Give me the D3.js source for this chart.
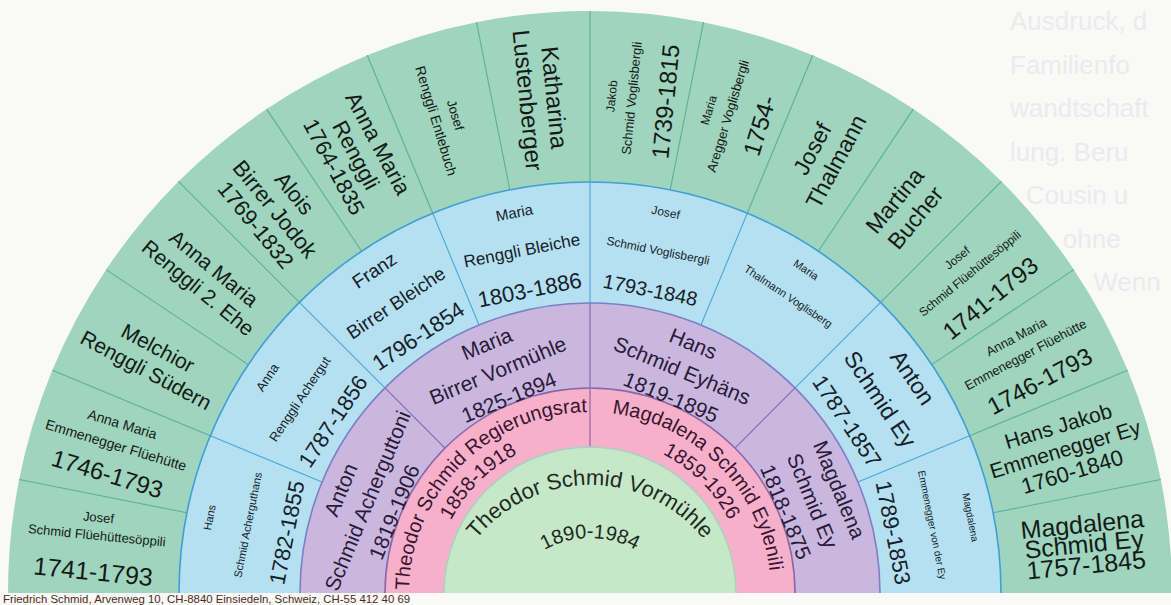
<!DOCTYPE html>
<html>
<head>
<meta charset="utf-8">
<script src="https://cdn.jsdelivr.net/npm/d3@7"></script>
<style>
  body { margin: 0; background: #f9f9f8; }
  svg { display: block; font-family: "Liberation Sans", Arial, sans-serif; }
</style>
</head>
<body>
<svg id="chart" width="1171" height="605"></svg>
<script>
// ancestors, one array per generation (left to right)
const proband = ["Theodor Schmid Vormühle", "1890-1984"];
const parents = [
  ["Theodor Schmid Regierungsrat", "1858-1918"],
  ["Magdalena Schmid Eylenili", "1859-1926"]
];
const grandparents = [
  ["Anton", "Schmid Acherguttoni", "1819-1906"],
  ["Maria", "Birrer Vormühle", "1825-1894"],
  ["Hans", "Schmid Eyhäns", "1819-1895"],
  ["Magdalena", "Schmid Ey", "1818-1875"]
];
const greatGrandparents = [
  ["Hans", "Schmid Acherguthans", "1782-1855"],
  ["Anna", "Renggli Achergut", "1787-1856"],
  ["Franz", "Birrer Bleiche", "1796-1854"],
  ["Maria", "Renggli Bleiche", "1803-1886"],
  ["Josef", "Schmid Voglisbergli", "1793-1848"],
  ["Maria", "Thalmann Voglisberg"],
  ["Anton", "Schmid Ey", "1787-1857"],
  ["Magdalena", "Emmenegger von der Ey", "1789-1853"]
];
const gen5 = [
  ["Josef", "Schmid Flüehüttesöppili", "1741-1793"],
  ["Anna Maria", "Emmenegger Flüehütte", "1746-1793"],
  ["Melchior", "Renggli Südern"],
  ["Anna Maria", "Renggli 2. Ehe"],
  ["Alois", "Birrer Jodok", "1769-1832"],
  ["Anna Maria", "Renggli", "1764-1835"],
  ["Josef", "Renggli Entlebuch"],
  ["Katharina", "Lustenberger"],
  ["Jakob", "Schmid Voglisbergli", "1739-1815"],
  ["Maria", "Aregger Voglisbergli", "1754-"],
  ["Josef", "Thalmann"],
  ["Martina", "Bucher"],
  ["Josef", "Schmid Flüehüttesöppili", "1741-1793"],
  ["Anna Maria", "Emmenegger Flüehütte", "1746-1793"],
  ["Hans Jakob", "Emmenegger Ey", "1760-1840"],
  ["Magdalena", "Schmid Ey", "1757-1845"]
];
const footer = "Friedrich Schmid, Arvenweg 10, CH-8840 Einsiedeln, Schweiz, CH-55 412 40 69";
// printed page showing through (only the visible fragments)
const pageText = ["Ausdruck, d", "Familienfo", "wandtschaft", "lung. Beru", "Cousin u", "ohne", "Wenn"];

// per-line font sizes / spacing (style only)
const ggSizes = [[11,11,22],[13,13,22],[19,19,22],[15,17,22],[12,12,20],[11,11],[23,23,22],[10,10,22]];
const gen5Sizes = [[13,13,25],[14,14,24],[21,21],[21,21],[22,22,22],[22,22,22],[13,14],[24,24],
                   [12,13,24],[12,13,24],[23,23],[23,23],[12,12,24],[13,13,24],[21,21,22],[25,25,25]];
const gen5Gaps = [[18,36],[22,30],[25],[25],[25,25],[25,25],[20],[27],
                  [20,34],[20,33],[27],[27],[20,32],[20,30],[24,24],[20,21]];

const cx = 590, cy = 593;
const R = [146, 205, 290, 411, 582];

const svg = d3.select("#chart");

// page text sits right of the fan's outer edge
svg.append("g").selectAll("text").data(pageText).enter().append("text")
  .attr("x", (d, i) => {
    const y = 30 + i * 43.5 - 10;
    return Math.max(1010, cx + Math.sqrt(R[4] * R[4] - (cy - y) * (cy - y)) + 12);
  })
  .attr("y", (d, i) => 30 + i * 43.5)
  .attr("font-size", 26).attr("fill", "#ebebeb").text(d => d);

const pie = d3.pie().value(1).sort(null).startAngle(-Math.PI / 2).endAngle(Math.PI / 2);

const rings = [
  { data: [proband], r0: 0, r1: R[0], fill: "#c7e7c9", line: "#9fcfb4" },
  { data: parents, r0: R[0], r1: R[1], fill: "#f6b0ca", line: "#86609e" },
  { data: grandparents, r0: R[1], r1: R[2], fill: "#c9b7e0", line: "#7d68ad" },
  { data: greatGrandparents, r0: R[2], r1: R[3], fill: "#b4e0f1", line: "#4aa7d9" },
  { data: gen5, r0: R[3], r1: R[4], fill: "#9fd4be", line: "#5aae9d" }
];

const g = svg.append("g").attr("transform", `translate(${cx},${cy})`);

rings.forEach(ring => {
  ring.slices = pie(ring.data);
  const arc = d3.arc().innerRadius(ring.r0).outerRadius(ring.r1);
  g.append("g").selectAll("path").data(ring.slices).enter().append("path")
    .attr("d", arc).attr("fill", ring.fill);
});

// radial separators
rings.forEach(ring => {
  g.append("g").selectAll("line").data(ring.slices.slice(1)).enter().append("line")
    .attr("x1", d => ring.r0 * Math.sin(d.startAngle)).attr("y1", d => -ring.r0 * Math.cos(d.startAngle))
    .attr("x2", d => ring.r1 * Math.sin(d.startAngle)).attr("y2", d => -ring.r1 * Math.cos(d.startAngle))
    .attr("stroke", ring.line).attr("stroke-width", 1.1);
});

// ring borders
[[R[0], "#a7d3bf"], [R[1], "#8a67a8"], [R[2], "#7d7fc4"], [R[3], "#3f9fd6"]].forEach(([r, c]) => {
  const p = d3.path();
  p.arc(0, 0, r, Math.PI, 2 * Math.PI);
  g.append("path").attr("d", p.toString()).attr("fill", "none").attr("stroke", c).attr("stroke-width", 1.6);
});

const defs = svg.append("defs");
function arcText(id, ox, oy, r, a0, a1, txt, size, color) {
  const p = d3.path();
  p.arc(ox, oy, r, a0, a1);
  defs.append("path").attr("id", id).attr("d", p.toString());
  g.append("text").attr("font-size", size).attr("fill", color)
    .append("textPath").attr("href", "#" + id).attr("startOffset", "50%")
    .attr("text-anchor", "middle").text(txt);
}

// proband
arcText("p0", 0, 38, 146, Math.PI, 2 * Math.PI, proband[0], 22, "#1c2a1e");
arcText("p1", 0, 38, 93, Math.PI, 2 * Math.PI, proband[1], 20, "#1c2a1e");

// parents
parents.forEach((d, i) => {
  const a0 = Math.PI + i * Math.PI / 2, a1 = a0 + Math.PI / 2;
  arcText("pa" + i, 0, 0, 181, a0, a1, d[0], 20, "#3a1430");
  arcText("pd" + i, 0, 0, 157, a0, a1, d[1], 20, "#3a1430");
});

// tangential labels (grandparents, great-grandparents)
function tangential(slices, sizes, slots, color) {
  slices.forEach((s, i) => {
    const a = (s.startAngle + s.endAngle) / 2;
    const deg = a * 180 / Math.PI;
    s.data.forEach((t, j) => {
      const r = slots[s.data.length][j];
      g.append("text")
        .attr("transform", `translate(${r * Math.sin(a)},${-r * Math.cos(a)}) rotate(${deg})`)
        .attr("text-anchor", "middle").attr("dominant-baseline", "central")
        .attr("font-size", sizes[i][j]).attr("fill", color).text(t);
    });
  });
}
tangential(rings[2].slices, grandparents.map(() => [21, 21, 21]), { 3: [270, 241, 212] }, "#2a1a38");
tangential(rings[3].slices, ggSizes, { 2: [389, 357], 3: [388, 349, 309] }, "#16202a");

// radial labels (outer ring)
const rm = (R[3] + R[4]) / 2;
rings[4].slices.forEach((s, i) => {
  const a = (s.startAngle + s.endAngle) / 2;
  const deg = a * 180 / Math.PI;
  const rot = a < 0 ? deg + 90 : deg - 90;
  const offs = [0];
  gen5Gaps[i].forEach(v => offs.push(offs[offs.length - 1] + v));
  const shift = offs[offs.length - 1] / 2;
  const tg = g.append("g")
    .attr("transform", `translate(${rm * Math.sin(a)},${-rm * Math.cos(a)}) rotate(${rot})`);
  s.data.forEach((t, j) => {
    tg.append("text").attr("y", offs[j] - shift)
      .attr("text-anchor", "middle").attr("dominant-baseline", "central")
      .attr("font-size", gen5Sizes[i][j]).attr("fill", "#141a16").text(t);
  });
});

svg.append("text").attr("x", 3).attr("y", 603).attr("font-size", 11.4)
  .attr("fill", "#4d2a22").text(footer);
</script>
</body>
</html>
